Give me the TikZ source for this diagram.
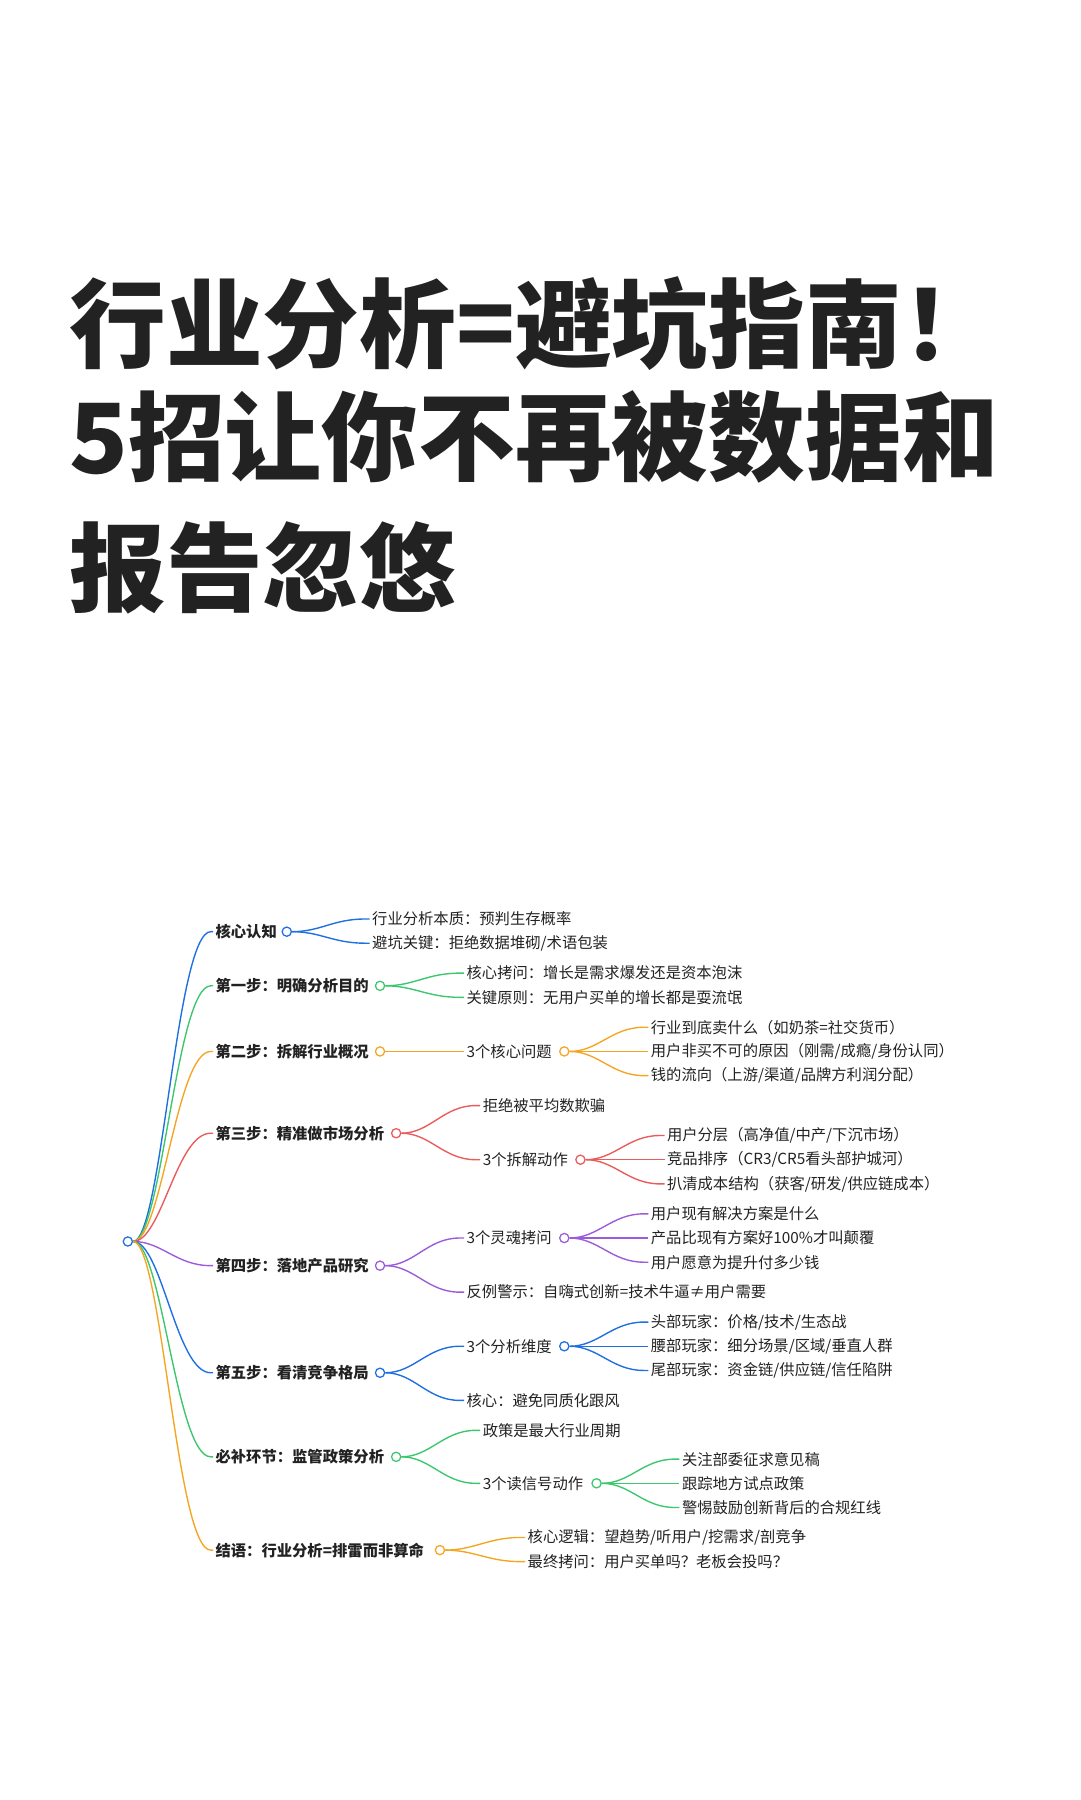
\documentclass[tikz,border=0pt]{standalone}
\usepackage{fontspec}
\newfontfamily\cjk{Noto Sans CJK SC}
\newfontfamily\cjkblack{Noto Sans CJK SC Black}
\definecolor{cb}{HTML}{1E6FE0}
\definecolor{cg}{HTML}{3CC76E}
\definecolor{co}{HTML}{F4A623}
\definecolor{cr}{HTML}{EB5B5B}
\definecolor{cp}{HTML}{9C5BD8}
\definecolor{tx}{HTML}{222222}
\begin{document}
\begin{tikzpicture}[x=1pt,y=-1pt,
  t/.style={anchor=west,inner sep=2pt,text=tx,font=\cjk\fontsize{13.3}{15}\selectfont},
  h/.style={t,font=\cjk\bfseries\fontsize{13.3}{15}\selectfont},
  dot/.style={circle,draw=#1,fill=white,line width=1.1pt,inner sep=0pt,minimum size=8pt},
  ln/.style={draw=#1,line width=1.2pt},
  ttl/.style={anchor=west,inner sep=0pt,text=tx,font=\cjkblack\fontsize{84}{90}\selectfont}]
\useasboundingbox (0,0) rectangle (938,1563);
\node[ttl] (t1) at (60,281) {行业分析=避坑指南！};
\node[ttl] (t2) at (60,379) {5招让你不再被数据和};
\node[ttl] (t3) at (60,493) {报告忽悠};
\def\cv(#1)(#2)#3{\draw[ln=#3] (#1.east) .. controls +(25,0) and +(-28,0) .. ([xshift=-4pt]#2.west) -- (#2.west);}
\def\rc(#1)#2{\draw[ln=#2] (root.east) .. controls +(25,0) and +(-30,0) .. ([xshift=-2pt]#1.west) -- (#1.west);}
\node[dot=cb] (root) at (111,1078) {};
% 0
\node[h] (a) at (185,809) {核心认知}; \node[dot=cb] (ac) at (249,809) {};
\node[t] (a1) at (321,798) {行业分析本质：预判生存概率};
\node[t] (a2) at (321,819) {避坑关键：拒绝数据堆砌/术语包装};
\rc(a){cb} \cv(ac)(a1){cb} \cv(ac)(a2){cb}
% 1
\node[h] (b) at (185,856) {第一步：明确分析目的}; \node[dot=cg] (bc) at (330,856) {};
\node[t] (b1) at (403,845) {核心拷问：增长是需求爆发还是资本泡沫};
\node[t] (b2) at (403,866) {关键原则：无用户买单的增长都是耍流氓};
\rc(b){cg} \cv(bc)(b1){cg} \cv(bc)(b2){cg}
% 2
\node[h] (c) at (185,913) {第二步：拆解行业概况}; \node[dot=co] (cc) at (330,913) {};
\node[t] (c1) at (403,913) {3个核心问题}; \node[dot=co] (c1c) at (490,913) {};
\node[t] (c11) at (563,892) {行业到底卖什么（如奶茶=社交货币）};
\node[t] (c12) at (563,913) {用户非买不可的原因（刚需/成瘾/身份认同）};
\node[t] (c13) at (563,934) {钱的流向（上游/渠道/品牌方利润分配）};
\rc(c){co} \cv(cc)(c1){co} \cv(c1c)(c11){co} \cv(c1c)(c12){co} \cv(c1c)(c13){co}
% 3
\node[h] (d) at (185,984) {第三步：精准做市场分析}; \node[dot=cr] (dc) at (344,984) {};
\node[t] (d1) at (417,960) {拒绝被平均数欺骗};
\node[t] (d2) at (417,1007) {3个拆解动作}; \node[dot=cr] (d2c) at (504,1007) {};
\node[t] (d21) at (577,986) {用户分层（高净值/中产/下沉市场）};
\node[t] (d22) at (577,1007) {竞品排序（CR3/CR5看头部护城河）};
\node[t] (d23) at (577,1028) {扒清成本结构（获客/研发/供应链成本）};
\rc(d){cr} \cv(dc)(d1){cr} \cv(dc)(d2){cr} \cv(d2c)(d21){cr} \cv(d2c)(d22){cr} \cv(d2c)(d23){cr}
% 4
\node[h] (e) at (185,1099) {第四步：落地产品研究}; \node[dot=cp] (ec) at (330,1099) {};
\node[t] (e1) at (403,1075) {3个灵魂拷问}; \node[dot=cp] (e1c) at (490,1075) {};
\node[t] (e11) at (563,1054) {用户现有解决方案是什么};
\node[t] (e12) at (563,1075) {产品比现有方案好100\%才叫颠覆};
\node[t] (e13) at (563,1096) {用户愿意为提升付多少钱};
\node[t] (e2) at (403,1122) {反例警示：自嗨式创新=技术牛逼≠用户需要};
\rc(e){cp} \cv(ec)(e1){cp} \cv(ec)(e2){cp} \cv(e1c)(e11){cp} \cv(e1c)(e12){cp} \cv(e1c)(e13){cp}
% 5
\node[h] (f) at (185,1192) {第五步：看清竞争格局}; \node[dot=cb] (fc) at (330,1192) {};
\node[t] (f1) at (403,1169) {3个分析维度}; \node[dot=cb] (f1c) at (490,1169) {};
\node[t] (f11) at (563,1148) {头部玩家：价格/技术/生态战};
\node[t] (f12) at (563,1169) {腰部玩家：细分场景/区域/垂直人群};
\node[t] (f13) at (563,1190) {尾部玩家：资金链/供应链/信任陷阱};
\node[t] (f2) at (403,1216) {核心：避免同质化跟风};
\rc(f){cb} \cv(fc)(f1){cb} \cv(fc)(f2){cb} \cv(f1c)(f11){cb} \cv(f1c)(f12){cb} \cv(f1c)(f13){cb}
% 6
\node[h] (g) at (185,1265) {必补环节：监管政策分析}; \node[dot=cg] (gc) at (344,1265) {};
\node[t] (g1) at (417,1242) {政策是最大行业周期};
\node[t] (g2) at (417,1288) {3个读信号动作}; \node[dot=cg] (g2c) at (518,1288) {};
\node[t] (g21) at (590,1267) {关注部委征求意见稿};
\node[t] (g22) at (590,1288) {跟踪地方试点政策};
\node[t] (g23) at (590,1309) {警惕鼓励创新背后的合规红线};
\rc(g){cg} \cv(gc)(g1){cg} \cv(gc)(g2){cg} \cv(g2c)(g21){cg} \cv(g2c)(g22){cg} \cv(g2c)(g23){cg}
% 7
\node[h] (k) at (185,1346) {结语：行业分析=排雷而非算命}; \node[dot=co] (kc) at (382,1346) {};
\node[t] (k1) at (456,1335) {核心逻辑：望趋势/听用户/挖需求/剖竞争};
\node[t] (k2) at (456,1356) {最终拷问：用户买单吗？老板会投吗？};
\rc(k){co} \cv(kc)(k1){co} \cv(kc)(k2){co}
\end{tikzpicture}
\end{document}
